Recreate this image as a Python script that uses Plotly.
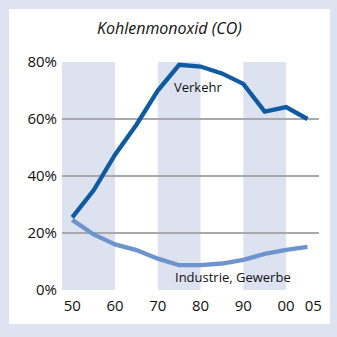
import plotly.graph_objects as go

years = [1950, 1955, 1960, 1965, 1970, 1975, 1980, 1985, 1990, 1995, 2000, 2005]
verkehr = [25.5, 35.0, 47.5, 58.0, 70.0, 79.0, 78.4, 76.0, 72.3, 62.6, 64.2, 60.0]
industrie = [24.6, 19.5, 16.0, 14.0, 11.0, 8.7, 8.7, 9.3, 10.6, 12.7, 14.1, 15.1]

x_tickvals = [1950, 1960, 1970, 1980, 1990, 2000, 2005]
x_ticktext = ["50", "60", "70", "80", "90", "00", "\u00a0\u00a0\u00a005"]
y_tickvals = [0, 20, 40, 60, 80]
y_ticktext = ["0%", "20%", "40%", "60%", "80%"]
bands = [(1947.6, 1960), (1970, 1980), (1990, 2000)]

title = "Kohlenmonoxid (CO)"
label_verkehr = ("Verkehr", 1979.3, 71.2)
label_industrie = ("Industrie, Gewerbe", 1987.7, 4.6)

BG = "#dde3f0"
BAND = "#dce2ef"
DARK = "#0f5ba3"
LIGHT = "#6d94cc"
GRID = "#a9a9a9"
FONT = "Open Sans, Lato, sans-serif"

fig = go.Figure()
fig.add_trace(go.Scatter(x=years, y=industrie, mode="lines",
                         line=dict(color=LIGHT, width=4.3), hoverinfo="skip"))
fig.add_trace(go.Scatter(x=years, y=verkehr, mode="lines",
                         line=dict(color=DARK, width=4.3), hoverinfo="skip"))

shapes = [dict(type="rect", xref="paper", yref="paper",
               x0=(9 - 62) / 257, x1=(330 - 62) / 257,
               y0=(290 - 324) / 228, y1=(290 - 9) / 228,
               fillcolor="white", line=dict(width=0), layer="below")]
for a, b in bands:
    shapes.append(dict(type="rect", xref="x", yref="y", x0=a, x1=b, y0=0, y1=80,
                       fillcolor=BAND, line=dict(width=0), layer="below"))

annotations = [
    dict(text=title, xref="paper", yref="paper", x=(169 - 62) / 257, y=(290 - 28) / 228,
         showarrow=False, font=dict(family=FONT, size=16, color="#111", style="italic"),
         xanchor="center", yanchor="middle"),
    dict(text=label_verkehr[0], x=label_verkehr[1], y=label_verkehr[2], xref="x", yref="y",
         showarrow=False, font=dict(family=FONT, size=13, color="#111")),
    dict(text=label_industrie[0], x=label_industrie[1], y=label_industrie[2], xref="x", yref="y",
         showarrow=False, font=dict(family=FONT, size=13, color="#111")),
]

fig.update_layout(
    width=337, height=337,
    margin=dict(l=62, r=18, t=62, b=47),
    paper_bgcolor=BG, plot_bgcolor="rgba(0,0,0,0)",
    showlegend=False,
    shapes=shapes, annotations=annotations,
    xaxis=dict(range=[1947.6, 2007.7], tickvals=x_tickvals, ticktext=x_ticktext,
               showgrid=False, zeroline=False, showline=False, ticks="",
               ticklabelstandoff=5, tickangle=0, automargin=False,
               tickfont=dict(family=FONT, size=15, color="#111"), fixedrange=True),
    yaxis=dict(range=[0, 80], tickvals=y_tickvals, ticktext=y_ticktext,
               showgrid=True, gridcolor=GRID, gridwidth=1.5, zeroline=False,
               showline=False, ticks="", ticklabelstandoff=4, automargin=False,
               tickfont=dict(family=FONT, size=15, color="#111"), fixedrange=True),
)

fig.write_html("out.html", config={"displayModeBar": False})
